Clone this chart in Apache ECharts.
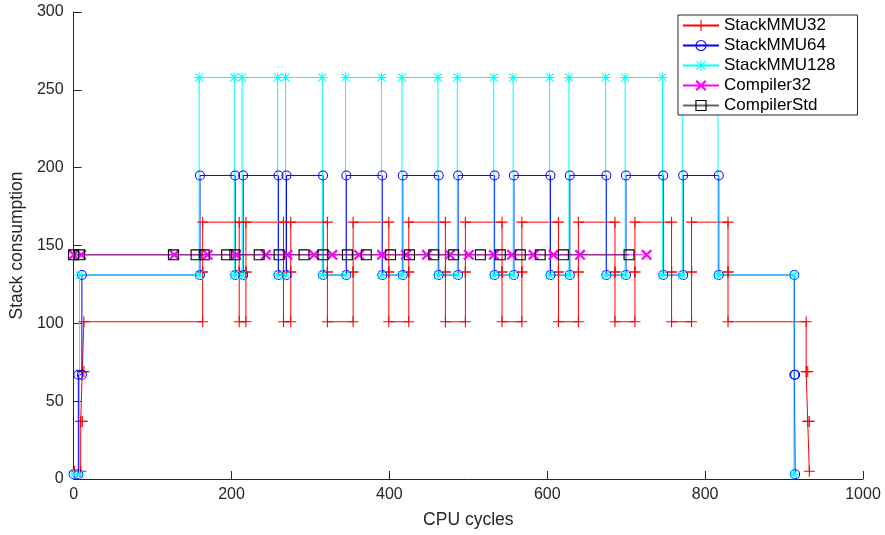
<!DOCTYPE html>
<html><head><meta charset="utf-8">
<script src="https://cdn.jsdelivr.net/npm/echarts@6/dist/echarts.min.js"></script>
<style>html,body{margin:0;padding:0;background:#fff}#c{width:885px;height:535px}</style>
</head><body><div id="c"></div>
<script>
// ---- data ----
const seriesNames = ['StackMMU32','StackMMU64','StackMMU128','Compiler32','CompilerStd'];
const xTickInterval = 200, xMin = 0, xMax = 1000;
const yTickInterval = 50, yMin = 0, yMax = 300;

// StackMMU32: change times and the level reached at each change
const mmu32T = [1, 9, 11, 13,
  163.5,163.5, 209.8,209.8, 218.3,218.3, 265.9,265.9, 275.1,275.1, 321.5,321.5,
  354.1,354.1, 399.3,399.3, 424.6,424.6, 471.0,471.0, 496.3,496.3, 542.7,542.7,
  567.9,567.9, 614.2,614.2, 639.5,639.5, 685.8,685.8, 711.1,711.1, 757.5,757.5,
  782.8,782.8, 829.0,829.0, 928, 930, 932];
const mmu32V = [5, 37, 69, 101,
  133,165, 133,101, 133,165, 133,101, 133,165, 133,101,
  133,165, 133,101, 133,165, 133,101, 133,165, 133,101,
  133,165, 133,101, 133,165, 133,101, 133,165, 133,101,
  133,165, 133,101, 69, 37, 5];

// StackMMU64
const mmu64T = [0, 6, 10.5, 160.1, 204.7, 214.8, 259.6, 269.7, 316.0, 345.5, 391.0, 417.0, 462.5,
  487.1, 533.3, 557.8, 604.1, 628.6, 674.9, 699.7, 746.9, 772.2, 817.3, 913, 914];
const mmu64V = [3, 67, 131, 195, 131, 195, 131, 195, 131, 195, 131, 195, 131,
  195, 131, 195, 131, 195, 131, 195, 131, 195, 131, 67, 3];

// StackMMU128
const mmu128T = [0, 7.5, 159, 203.5, 213.5, 258.5, 268.5, 315, 344.5, 390, 416, 461.5,
  486, 532.3, 556.8, 603, 627.5, 674, 698.7, 746, 771, 816.3, 912.5];
const mmu128V = [3, 131, 258, 131, 258, 131, 258, 131, 258, 131, 258, 131,
  258, 131, 258, 131, 258, 131, 258, 131, 258, 131, 3];

// Compiler32
const comp32T = [0, 9.7, 127.6, 169.8, 205.6, 243.5, 270.9, 304.6, 327.8, 361.6, 390.7,
  421.0, 447.6, 476.7, 500.7, 532.3, 555.3, 582.6, 607.9, 641.6, 725.9];
const comp32V = [144,144,144,144,144,144,144,144,144,144,144,144,144,144,144,144,144,144,144,144,144];

// CompilerStd
const compStdT = [0, 7.6, 126.4, 155.1, 165.5, 193.9, 204.3, 235.1, 260.3, 291.9, 315.9,
  346.8, 370.8, 401.5, 425.5, 456.2, 481.5, 515.3, 540.6, 565.9, 591.1, 620.5, 703.6];
const compStdV = [144,144,144,144,144,144,144,144,144,144,144,144,144,144,144,144,144,144,144,144,144,144,144];

// ---- build ----
function stairs(T, V) {
  const pts = [[T[0], V[0]]];
  for (let i = 1; i < T.length; i++) {
    if (V[i] !== V[i - 1]) pts.push([T[i], V[i - 1]]);
    pts.push([T[i], V[i]]);
  }
  return pts;
}
const SYM = {
  plus: 'path://M0,4.5H10V5.5H0Z M4.5,0H5.5V10H4.5Z',
  ring: 'path://M5,0A5,5,0,1,1,5,10A5,5,0,1,1,5,0Z M5,1A4,4,0,1,0,5,9A4,4,0,1,0,5,1Z',
  star: 'path://M0,4.5H10V5.5H0Z M4.5,0H5.5V10H4.5Z M1.4,0.7L9.3,8.6L8.6,9.3L0.7,1.4Z M8.6,0.7L9.3,1.4L1.4,9.3L0.7,8.6Z',
  cross: 'path://M0,1.4L1.4,0L10,8.6L8.6,10Z M8.6,0L10,1.4L1.4,10L0,8.6Z',
  square: 'path://M0,0H10V10H0Z M1,1V9H9V1Z'
};
function mk(name, data, color, symbol, size, opacity) {
  return {
    name, type: 'line', data, symbol, symbolSize: size, showAllSymbol: true,
    lineStyle: {color, width: 1, opacity: opacity || 1},
    itemStyle: {color, borderWidth: 0},
    emphasis: {disabled: true}, silent: true, animation: false
  };
}
const font = 'Liberation Sans';
const txt = '#262626';
const option = {
  animation: false,
  backgroundColor: '#fff',
  grid: {left: 72, right: 22, top: 12, bottom: 56, containLabel: false},
  xAxis: {
    type: 'value', min: xMin, max: xMax, interval: xTickInterval,
    name: 'CPU cycles', nameLocation: 'middle', nameGap: 32,
    nameTextStyle: {fontFamily: font, fontSize: 17.5, color: txt},
    axisLine: {show: true, onZero: false, lineStyle: {color: txt, width: 1}},
    axisTick: {show: true, inside: true, length: 8, lineStyle: {color: txt}},
    axisLabel: {fontFamily: font, fontSize: 16, color: txt, margin: 8, formatter: v => String(v)},
    splitLine: {show: false}
  },
  yAxis: {
    type: 'value', min: yMin, max: yMax, interval: yTickInterval,
    name: 'Stack consumption', nameLocation: 'middle', nameGap: 46,
    nameTextStyle: {fontFamily: font, fontSize: 17.5, color: txt},
    axisLine: {show: true, onZero: false, lineStyle: {color: txt, width: 1}},
    axisTick: {show: true, inside: true, length: 8, lineStyle: {color: txt}},
    axisLabel: {fontFamily: font, fontSize: 16, color: txt, margin: 10, formatter: v => String(v)},
    splitLine: {show: false}
  },
  legend: {
    orient: 'vertical', left: 678, top: 15,
    padding: [2, 22, 1, 4],
    itemWidth: 36, itemHeight: 14, itemGap: 3,
    backgroundColor: '#fff', borderColor: '#262626', borderWidth: 1, borderRadius: 0,
    textStyle: {fontFamily: font, fontSize: 17, color: '#000', lineHeight: 16},
    data: seriesNames,
    selectedMode: false
  },
  series: [
    mk(seriesNames[0], stairs(mmu32T, mmu32V), '#ff0000', SYM.plus, 11),
    mk(seriesNames[1], stairs(mmu64T, mmu64V), '#0000ff', SYM.ring, 10),
    mk(seriesNames[2], stairs(mmu128T, mmu128V), '#00ffff', SYM.star, 10),
    mk(seriesNames[3], stairs(comp32T, comp32V), '#ff00ff', SYM.cross, 11),
    mk(seriesNames[4], stairs(compStdT, compStdV), '#000000', SYM.square, 11, 0.6)
  ]
};
const chart = echarts.init(document.getElementById('c'), null, {renderer: 'canvas'});
chart.setOption(option);
</script>
</body></html>
